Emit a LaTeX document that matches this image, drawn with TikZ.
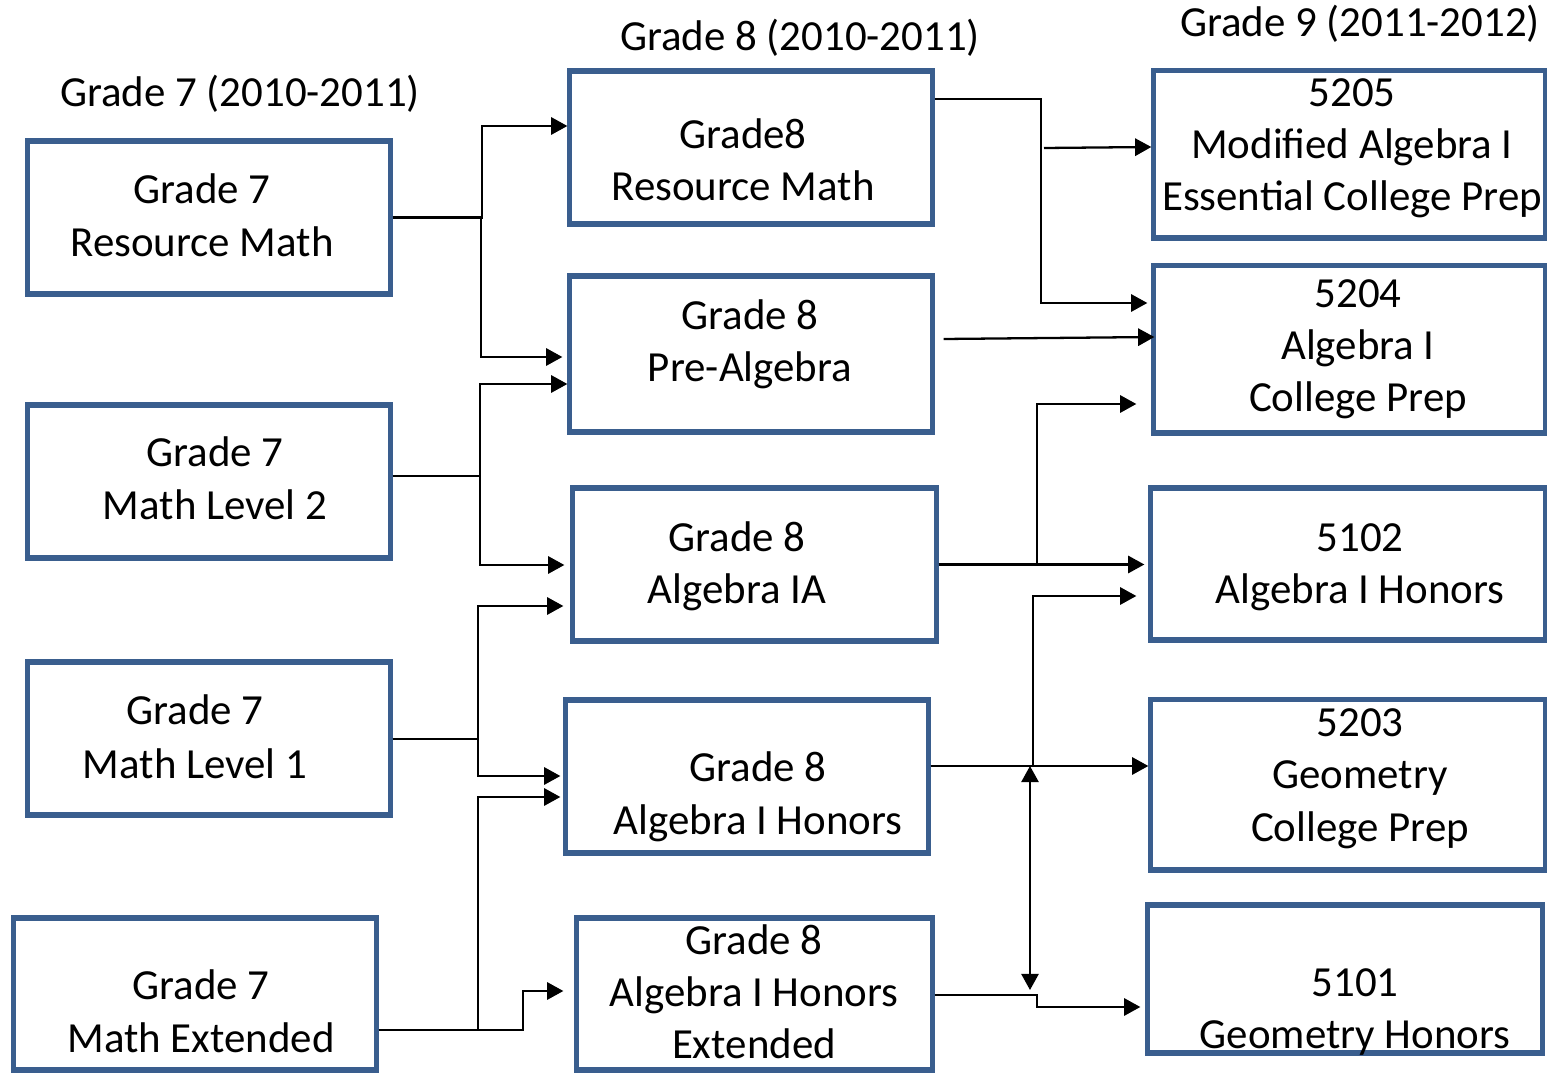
\documentclass[tikz,border=0pt]{standalone}
\usepackage{fontspec}
\setmainfont{Carlito}
\usetikzlibrary{arrows.meta}
\definecolor{boxblue}{RGB}{58,94,142}
\begin{document}
\begin{tikzpicture}[x=0.01cm,y=-0.01cm,
  box/.style={draw=boxblue,line width=1.45pt,rectangle,inner sep=0pt},
  ln/.style={anchor=base,inner sep=0pt,font=\fontsize{12.2pt}{14.8pt}\selectfont},
  conn/.style={line width=0.65pt,black},
  arr/.style={conn,-{Triangle[length=4.6pt,width=4.9pt]}},
  darr/.style={conn,{Triangle[length=4.6pt,width=4.9pt]}-{Triangle[length=4.6pt,width=4.9pt]}}]
\useasboundingbox (0,0) rectangle (1547,1073);
% boxes
\node[box,minimum width=3.62cm,minimum height=1.53cm] (g7rm) at (209,217.5) {};
\node[box,minimum width=3.62cm,minimum height=1.53cm] (g7ml2) at (209,481.5) {};
\node[box,minimum width=3.62cm,minimum height=1.53cm] (g7ml1) at (209,738.5) {};
\node[box,minimum width=3.62cm,minimum height=1.52cm] (g7me) at (195,994) {};
\node[box,minimum width=3.62cm,minimum height=1.53cm] (g8rm) at (751,147.5) {};
\node[box,minimum width=3.62cm,minimum height=1.56cm] (g8pa) at (751,354) {};
\node[box,minimum width=3.63cm,minimum height=1.53cm] (g8ia) at (754.5,564.5) {};
\node[box,minimum width=3.62cm,minimum height=1.53cm] (g8ih) at (747,776.5) {};
\node[box,minimum width=3.55cm,minimum height=1.52cm] (g8ihe) at (754.5,994) {};
\node[box,minimum width=3.91cm,minimum height=1.67cm] (g95205) at (1349.5,154.5) {};
\node[box,minimum width=3.91cm,minimum height=1.67cm] (g95204) at (1349.5,349.5) {};
\node[box,minimum width=3.94cm,minimum height=1.52cm] (g95102) at (1348,564) {};
\node[box,minimum width=3.94cm,minimum height=1.70cm] (g95203) at (1348,785) {};
\node[box,minimum width=3.94cm,minimum height=1.48cm] (g95101) at (1345,979) {};
% headers
\node[ln] (h7) at (240,107) {Grade 7 (2010-2011)};
\node[ln] (h8) at (800,51) {Grade 8 (2010-2011)};
\node[ln] (h9) at (1360,37) {Grade 9 (2011-2012)};
% texts grade 7
\node[ln] (t7rma) at (202,204) {Grade 7};
\node[ln] (t7rmb) at (202,257) {Resource Math};
\node[ln] (t7l2a) at (215,467) {Grade 7};
\node[ln] (t7l2b) at (215,520) {Math Level 2};
\node[ln] (t7l1a) at (195,725) {Grade 7};
\node[ln] (t7l1b) at (195,778) {Math Level 1};
\node[ln] (t7mea) at (201,999) {Grade 7};
\node[ln] (t7meb) at (201,1052) {Math Extended};
% texts grade 8
\node[ln] (t8rma) at (743,149) {Grade8};
\node[ln] (t8rmb) at (743,201) {Resource Math};
\node[ln] (t8paa) at (750,330) {Grade 8};
\node[ln] (t8pab) at (750,382) {Pre-Algebra};
\node[ln] (t8iaa) at (737,552) {Grade 8};
\node[ln] (t8iab) at (737,604) {Algebra IA};
\node[ln] (t8iha) at (758,782) {Grade 8};
\node[ln] (t8ihb) at (758,834) {Algebra I Honors};
\node[ln] (t8hea) at (754,955) {Grade 8};
\node[ln] (t8heb) at (754,1007) {Algebra I Honors};
\node[ln] (t8hec) at (754,1059) {Extended};
% texts grade 9
\node[ln] (t95205a) at (1352,107) {5205};
\node[ln] (t95205b) at (1352,159) {Modified Algebra I};
\node[ln] (t95205c) at (1352,211) {Essential College Prep};
\node[ln] (t95204a) at (1358,308) {5204};
\node[ln] (t95204b) at (1358,360) {Algebra I};
\node[ln] (t95204c) at (1358,412) {College Prep};
\node[ln] (t95102a) at (1360,552) {5102};
\node[ln] (t95102b) at (1360,604) {Algebra I Honors};
\node[ln] (t95203a) at (1360,737) {5203};
\node[ln] (t95203b) at (1360,789) {Geometry};
\node[ln] (t95203c) at (1360,841) {College Prep};
\node[ln] (t95101a) at (1355,997) {5101};
\node[ln] (t95101b) at (1355,1049) {Geometry Honors};
% connectors left
\draw[arr] (g7rm.east) -- (482,217.5) |- (g8rm.west |- 0,126);
\draw[arr] (g7rm.east) -- (481,217.5) |- ([xshift=-0.05cm]g8pa.west |- 0,357);
\draw[arr] (g7ml2.east |- 0,476) -- (480,476) |- (g8pa.west |- 0,384);
\draw[arr] (g7ml2.east |- 0,476) -- (480,476) |- ([xshift=-0.06cm]g8ia.west |- 0,565);
\draw[arr] (g7ml1.east |- 0,739) -- (478,739) |- ([xshift=-0.07cm]g8ia.west |- 0,606);
\draw[arr] (g7ml1.east |- 0,739) -- (478,739) |- ([xshift=-0.03cm]g8ih.west |- 0,776);
\draw[arr] (g7me.east |- 0,1030) -- (478,1030) |- ([xshift=-0.03cm]g8ih.west |- 0,797);
\draw[arr] (g7me.east |- 0,1030) -- (523,1030) |- ([xshift=-0.11cm]g8ihe.west |- 0,991);
% connectors right
\coordinate (s5205) at (1044,148);
\draw[arr] (g8rm.east |- 0,99) -- (1041,99) |- ([xshift=-0.04cm]g95204.west |- 0,303);
\draw[arr] (s5205) -- (g95205.west |- 0,147);
\draw[arr] ([xshift=0.09cm]g8pa.east |- 0,339) -- ([xshift=0.03cm]g95204.west |- 0,337);
\draw[arr] (g8ia.east) -- (1037,564.5) |- ([xshift=-0.15cm]g95204.west |- 0,404);
\draw[arr] (g8ia.east) -- ([xshift=-0.04cm]g95102.west |- g8ia.east);
\draw[arr] (g8ih.east |- 0,766) -- (1033,766) |- ([xshift=-0.12cm]g95102.west |- 0,596);
\draw[arr] (g8ih.east |- 0,766) -- (g95203.west |- 0,766);
\coordinate (dtop) at (1030,766);
\coordinate (dbot) at (1030,990);
\draw[darr] (dtop) -- (dbot);
\draw[arr] (g8ihe.east |- 0,995) -- (1037,995) |- ([xshift=-0.05cm]g95101.west |- 0,1007);
\end{tikzpicture}
\end{document}
